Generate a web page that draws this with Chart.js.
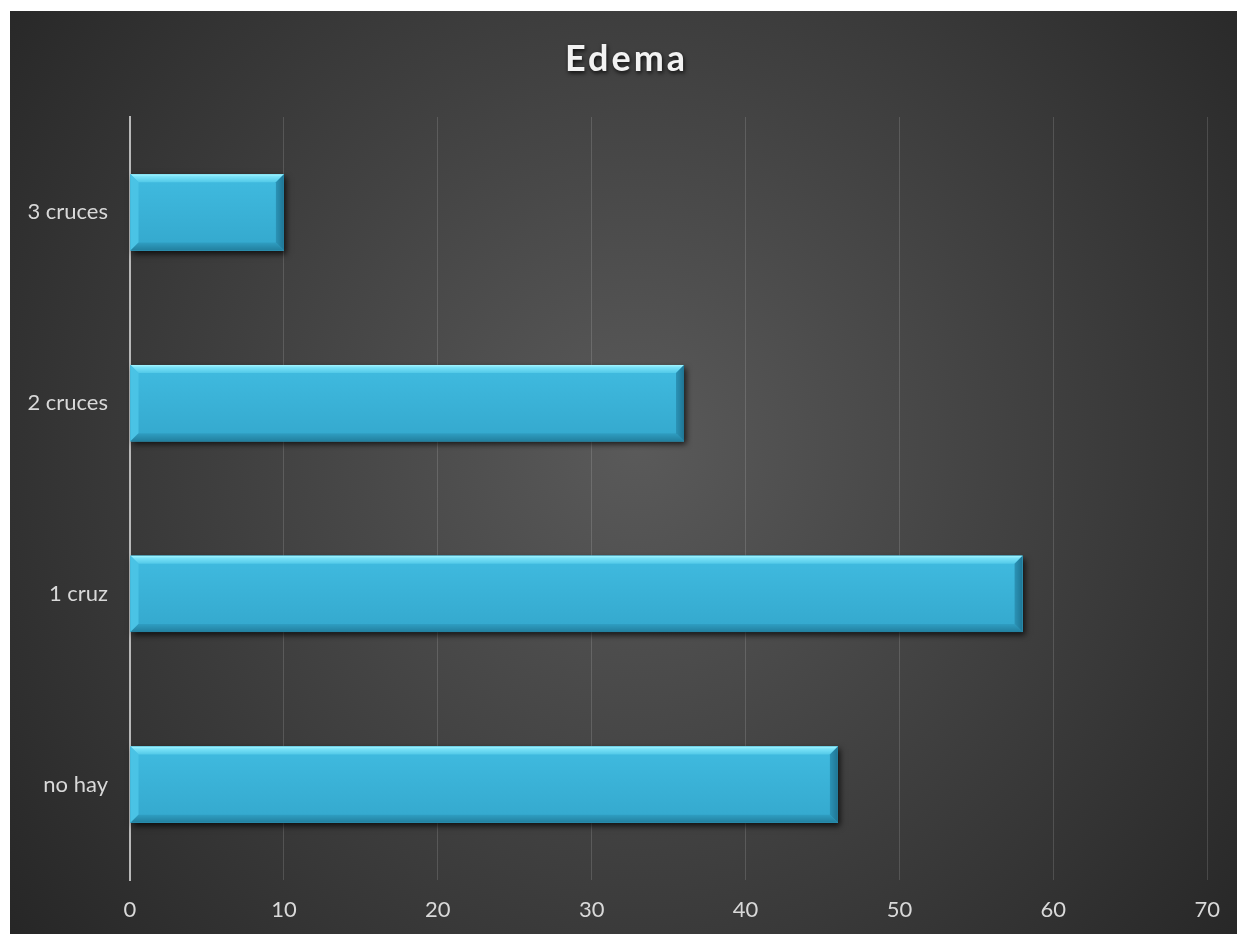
<!DOCTYPE html>
<html>
<head>
<meta charset="utf-8">
<script src="https://cdn.jsdelivr.net/npm/chart.js@4.4.1/dist/chart.umd.min.js"></script>
<style>
  html, body { margin: 0; padding: 0; background: #ffffff; }
  #wrap { position: absolute; left: 10px; top: 11px; width: 1227px; height: 923px; }
</style>
</head>
<body>
<div id="wrap"><canvas id="c" width="1227" height="923"></canvas></div>
<script>
const chartTitle = 'Edema';
const categories = ['3 cruces', '2 cruces', '1 cruz', 'no hay'];
const seriesValues = [10, 36, 58, 46];
const xTicks = [0, 10, 20, 30, 40, 50, 60, 70];

const backgroundPlugin = {
  id: 'bg',
  beforeDraw(chart) {
    const { ctx, width, height } = chart;
    ctx.save();
    const g = ctx.createRadialGradient(width * 0.51, height * 0.47, 0, width * 0.51, height * 0.47, 800);
    g.addColorStop(0, '#5a5a5a');
    g.addColorStop(1, '#262626');
    ctx.fillStyle = g;
    ctx.fillRect(0, 0, width, height);
    ctx.restore();
  }
};

const titlePlugin = {
  id: 'customTitle',
  afterDraw(chart) {
    const { ctx, width } = chart;
    ctx.save();
    ctx.font = 'bold 36px Lato';
    ctx.letterSpacing = '3px';
    ctx.textAlign = 'center';
    ctx.textBaseline = 'alphabetic';
    ctx.shadowColor = 'rgba(0,0,0,0.8)';
    ctx.shadowBlur = 4;
    ctx.shadowOffsetX = 1;
    ctx.shadowOffsetY = 2;
    ctx.fillStyle = '#f2f2f2';
    ctx.fillText(chartTitle, width / 2 + 3, 60);
    ctx.restore();
  }
};

function barRects(chart) {
  const meta = chart.getDatasetMeta(0);
  return meta.data.map(el => {
    const p = el.getProps(['x', 'y', 'base', 'height'], true);
    const l = Math.min(p.x, p.base), r = Math.max(p.x, p.base);
    return { l, r, t: p.y - p.height / 2, b: p.y + p.height / 2 };
  }).filter(R => [R.l, R.r, R.t, R.b].every(Number.isFinite));
}

const bevelPlugin = {
  id: 'bevel',
  beforeDatasetsDraw(chart) {
    const { ctx } = chart;
    ctx.save();
    barRects(chart).forEach(R => {
      ctx.shadowColor = 'rgba(0,0,0,0.75)';
      ctx.shadowBlur = 6;
      ctx.shadowOffsetX = 2;
      ctx.shadowOffsetY = 3;
      ctx.fillStyle = '#2a9cc0';
      ctx.fillRect(R.l, R.t, R.r - R.l, R.b - R.t);
    });
    ctx.restore();
  },
  afterDatasetsDraw(chart) {
    const { ctx } = chart;
    const s = 8;
    ctx.save();
    barRects(chart).forEach(R => {
      const { l, r, t, b } = R;
      // face
      let g = ctx.createLinearGradient(0, t, 0, b);
      g.addColorStop(0, '#40bbe0');
      g.addColorStop(1, '#34a8cd');
      ctx.fillStyle = g;
      ctx.fillRect(l, t, r - l, b - t);
      // top bevel
      g = ctx.createLinearGradient(0, t, 0, t + s);
      g.addColorStop(0, '#a6f6ff');
      g.addColorStop(0.3, '#7ae2f8');
      g.addColorStop(1, '#52c9e8');
      ctx.fillStyle = g;
      ctx.beginPath();
      ctx.moveTo(l, t); ctx.lineTo(r, t); ctx.lineTo(r - s, t + s); ctx.lineTo(l + s, t + s); ctx.closePath();
      ctx.fill();
      // left bevel
      ctx.fillStyle = '#4ac3e5';
      ctx.beginPath();
      ctx.moveTo(l, t); ctx.lineTo(l + s, t + s); ctx.lineTo(l + s, b - s); ctx.lineTo(l, b); ctx.closePath();
      ctx.fill();
      // bottom bevel
      g = ctx.createLinearGradient(0, b - s, 0, b);
      g.addColorStop(0, '#2f9ec2');
      g.addColorStop(1, '#227f9e');
      ctx.fillStyle = g;
      ctx.beginPath();
      ctx.moveTo(l, b); ctx.lineTo(l + s, b - s); ctx.lineTo(r - s, b - s); ctx.lineTo(r, b); ctx.closePath();
      ctx.fill();
      // right bevel
      g = ctx.createLinearGradient(r - s, 0, r, 0);
      g.addColorStop(0, '#2b93b6');
      g.addColorStop(1, '#1f7594');
      ctx.fillStyle = g;
      ctx.beginPath();
      ctx.moveTo(r, t); ctx.lineTo(r, b); ctx.lineTo(r - s, b - s); ctx.lineTo(r - s, t + s); ctx.closePath();
      ctx.fill();
    });
    ctx.restore();
  }
};

const ctx = document.getElementById('c').getContext('2d');
new Chart(ctx, {
  type: 'bar',
  data: {
    labels: categories,
    datasets: [{
      label: chartTitle,
      data: seriesValues,
      backgroundColor: '#3cb4d9',
      borderWidth: 0,
      barPercentage: 0.4,
      categoryPercentage: 1.0
    }]
  },
  options: {
    indexAxis: 'y',
    responsive: false,
    animation: false,
    layout: { padding: { top: 106, right: 28, left: 0, bottom: 0 } },
    plugins: {
      legend: { display: false },
      title: { display: false },
      tooltip: { enabled: false }
    },
    scales: {
      x: {
        min: 0,
        max: 70,
        afterBuildTicks(scale) { scale.ticks = xTicks.map(v => ({ value: v })); },
        afterFit(scale) { scale.height = 54; },
        grid: {
          color(c) { return c.tick && c.tick.value === 0 ? 'rgba(0,0,0,0)' : 'rgba(255,255,255,0.14)'; },
          lineWidth: 1,
          drawTicks: false
        },
        border: { display: false },
        ticks: {
          color: '#d9d9d9',
          font: { family: 'Lato', size: 22 },
          padding: 17
        }
      },
      y: {
        afterFit(scale) { scale.width = 120; },
        grid: { display: false, drawTicks: false },
        border: { display: true, color: '#b8b8b8', width: 2 },
        ticks: {
          color: '#d9d9d9',
          font: { family: 'Lato', size: 22 },
          padding: 22
        }
      }
    }
  },
  plugins: [backgroundPlugin, bevelPlugin, titlePlugin]
});
</script>
</body>
</html>
